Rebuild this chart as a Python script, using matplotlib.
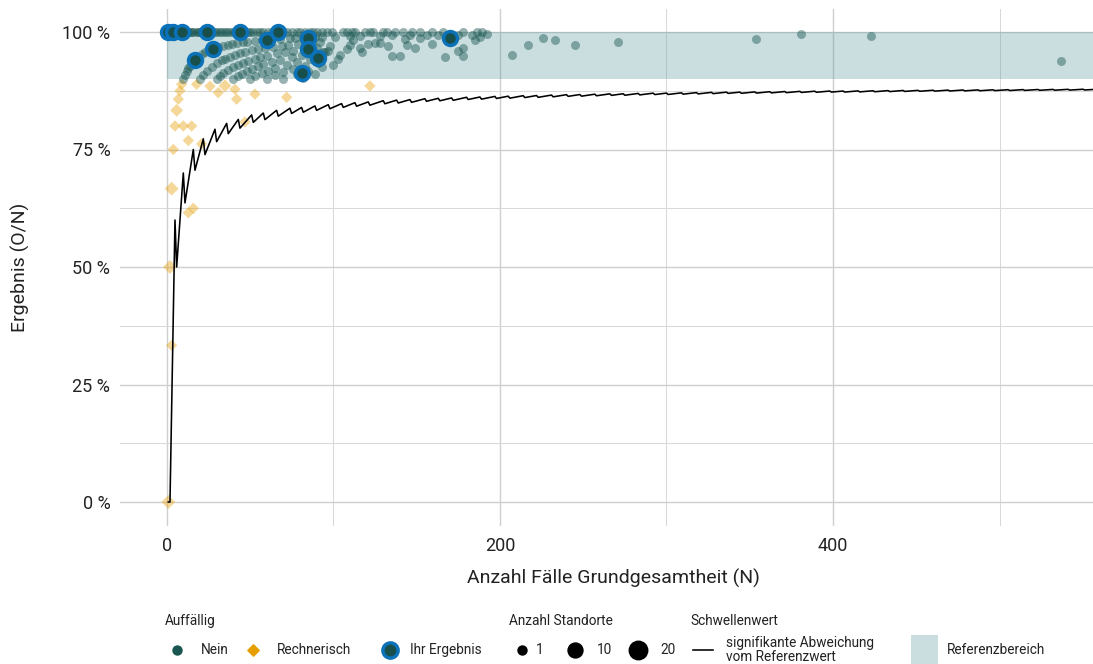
import numpy as np
import matplotlib
matplotlib.use("Agg")
import matplotlib.pyplot as plt
from matplotlib.patches import Rectangle
from matplotlib.ticker import FuncFormatter

plt.rcParams["font.family"] = ["Roboto", "DejaVu Sans"]

# --- Standorte im Referenzbereich (Auffaellig: Nein) -------------------------
# N = Faelle Grundgesamtheit, O = beobachtete Faelle
nein_n = [
    # 100 %
    1, 2, 3, 5, 6, 7, 8, 10, 11, 12, 13, 14, 15, 16, 18, 19, 20, 21, 22, 24,
    25, 26, 27, 29, 30, 32, 33, 35, 36, 38, 40, 41, 43, 45, 47, 49, 50, 52, 54, 56,
    58, 61, 63, 65, 68, 70, 72, 75, 78, 80, 83, 86, 88, 90, 93, 96, 99, 106, 108, 111,
    113, 119, 122, 124, 130, 132, 137, 142, 147, 152, 159, 166, 178, 186, 189,
    # ein Fall weniger
    10, 11, 12, 13, 14, 16, 19, 21, 23, 26, 29, 31, 34, 37, 39, 42, 46, 48, 53, 57,
    62, 68, 74, 77, 82, 89, 93, 101, 110, 116, 128, 135, 146, 156, 163, 175, 183, 192,
    # zwei bis acht Faelle weniger
    20, 22, 24, 27, 30, 33, 35, 38, 41, 44, 47, 51, 55, 59, 64, 69, 73, 79, 87, 92,
    30, 32, 34, 37, 40, 43, 46, 49, 53, 56, 60, 66, 71, 76, 84, 90,
    40, 43, 45, 48, 51, 55, 58, 63, 68, 75, 81, 88, 94,
    50, 53, 57, 61, 65, 72, 78, 86,
    60, 65, 70, 76, 83, 91,
    70, 78, 85, 93,
    82, 89,
    # groessere Standorte
    95, 97, 98, 100, 103, 104, 108, 110, 112, 116, 117, 121, 125, 128, 133, 135,
    140, 143, 144, 149, 152, 159, 167, 175, 178, 178, 185, 188,
    207, 217, 226, 233, 245, 271, 354, 381, 423, 537,
]
nein_o = [
    1, 2, 3, 5, 6, 7, 8, 10, 11, 12, 13, 14, 15, 16, 18, 19, 20, 21, 22, 24,
    25, 26, 27, 29, 30, 32, 33, 35, 36, 38, 40, 41, 43, 45, 47, 49, 50, 52, 54, 56,
    58, 61, 63, 65, 68, 70, 72, 75, 78, 80, 83, 86, 88, 90, 93, 96, 99, 106, 108, 111,
    113, 119, 122, 124, 130, 132, 137, 142, 147, 152, 159, 166, 178, 186, 189,
    9, 10, 11, 12, 13, 15, 18, 20, 22, 25, 28, 30, 33, 36, 38, 41, 45, 47, 52, 56,
    61, 67, 73, 76, 81, 88, 92, 100, 109, 115, 127, 134, 145, 155, 162, 174, 182, 191,
    18, 20, 22, 25, 28, 31, 33, 36, 39, 42, 45, 49, 53, 57, 62, 67, 71, 77, 85, 90,
    27, 29, 31, 34, 37, 40, 43, 46, 50, 53, 57, 63, 68, 73, 81, 87,
    36, 39, 41, 44, 47, 51, 54, 59, 64, 71, 77, 84, 90,
    45, 48, 52, 56, 60, 67, 73, 81,
    54, 59, 64, 70, 77, 85,
    63, 71, 78, 86,
    74, 81,
    91, 93, 95, 93, 97, 99, 104, 107, 110, 112, 112, 118, 122, 125, 129, 128,
    133, 141, 140, 144, 150, 155, 158, 168, 169, 172, 182, 186,
    197, 211, 223, 229, 238, 265, 349, 379, 419, 504,
]

# --- rechnerisch auffaellige Standorte ---------------------------------------
rech_n = [1, 2, 3, 3, 4, 5, 6, 7, 8, 9, 10, 13, 13, 15, 16, 18, 21, 26, 31, 35,
          41, 42, 47, 53, 72, 122]
rech_o = [0, 1, 1, 2, 3, 4, 5, 6, 7, 8, 8, 8, 10, 12, 10, 16, 16, 23, 27, 31,
          36, 36, 38, 46, 62, 108]
rech_standorte = [3, 3, 1, 3, 1, 1, 2, 1, 1, 1, 1, 1, 1, 1, 1, 1, 1, 1, 1, 2,
                  1, 1, 1, 1, 1, 1]

# --- eigene Standorte ----------------------------------------------------------
ihr_n = [1, 4, 9, 17, 24, 28, 44, 60, 67, 81, 85, 85, 91, 170]
ihr_o = [1, 4, 9, 16, 24, 27, 44, 59, 67, 74, 84, 82, 86, 168]

# --- Schwellenwert: erste Fallzahl N, ab der k Fehler (k = 1, 2, ...) gelten ---
schwelle_start = [1, 2, 6, 11, 17, 23, 30, 37, 44, 52, 59, 67, 75, 82, 90, 98,
                  106, 114, 122, 131, 139, 147, 156, 164, 172, 181, 189, 198,
                  206, 215, 223, 232, 241, 249, 258, 267, 275, 284, 293, 301,
                  310, 319, 328, 337, 345, 354, 363, 372, 381, 390, 399, 407,
                  416, 425, 434, 443, 452, 461, 470, 479, 488, 497, 506, 515,
                  524, 533, 542, 551]
X_MAX = 556
REF_UNTEN = 0.90

legende_standorte = [1, 10, 20]

GRUEN = "#1A5650"
GRUEN_DUNKEL = "#184F4A"
ORANGE = "#E69F00"
BLAU = "#0B72B9"
BAND = "#52949B"
TEXT = "#222222"
PT = 0.72  # Punkte je Pixel bei dpi=100


def groesse(n):
    d = 9 + 9.5 * (np.sqrt(n) - 1) / (np.sqrt(20) - 1)
    return (d * PT) ** 2


fig = plt.figure(figsize=(10.93, 6.64), dpi=100)
ax = fig.add_axes([120 / 1093, 1 - 525.5 / 664, 1 - 120 / 1093, 517 / 664])
ax.set_xlim(-28, X_MAX)
ax.set_ylim(-0.05, 1.05)
for sp in ax.spines.values():
    sp.set_visible(False)

ax.set_xticks([0, 200, 400])
ax.set_xticks([100, 300, 500], minor=True)
ax.set_yticks([0, 0.25, 0.5, 0.75, 1.0])
ax.set_yticks([0.125, 0.375, 0.625, 0.875], minor=True)
ax.grid(which="major", color="#cfcfcf", lw=1.0)
ax.grid(which="minor", color="#d9d9d9", lw=0.75)
ax.set_axisbelow(True)
ax.tick_params(which="both", length=0, labelsize=13, colors=TEXT)
ax.tick_params(axis="y", pad=7)
ax.tick_params(axis="x", pad=8)
ax.yaxis.set_major_formatter(FuncFormatter(lambda v, _: f"{v * 100:.0f} %"))

# Referenzbereich
ax.fill_between([0, X_MAX], REF_UNTEN, 1.0, color=BAND, alpha=0.3, lw=0, zorder=1)

# Schwellenwert als Saegezahn
sx, sy = [], []
for i, start in enumerate(schwelle_start):
    fehler = i + 1
    ende = schwelle_start[i + 1] - 1 if i + 1 < len(schwelle_start) else X_MAX
    for n in (start, ende):
        sx.append(n)
        sy.append((n - fehler) / n)

rn = np.array(rech_n)
ax.scatter(rn, np.array(rech_o) / rn, s=[groesse(k) * 0.8 for k in rech_standorte],
           marker="D", color=ORANGE, alpha=0.4, lw=0, zorder=2)
ax.plot(sx, sy, color="black", lw=1.15, zorder=3)

nn = np.array(nein_n)
ax.scatter(nn, np.array(nein_o) / nn, s=groesse(1), color=GRUEN, alpha=0.45,
           lw=0, zorder=4)

ihn = np.array(ihr_n)
ax.scatter(ihn, np.array(ihr_o) / ihn, s=100, facecolor=GRUEN_DUNKEL, edgecolor=BLAU,
           linewidths=2.5, zorder=5)

fig.text(613 / 1093, 1 - 578 / 664, "Anzahl Fälle Grundgesamtheit (N)",
         ha="center", va="center", fontsize=14, color=TEXT)
fig.text(20 / 1093, 1 - 267 / 664, "Ergebnis (O/N)", rotation=90,
         ha="center", va="center", fontsize=14, color=TEXT)

# --- Legende -------------------------------------------------------------------
lax = fig.add_axes([0, 0, 1, 1], zorder=10)
lax.set_xlim(0, 1093)
lax.set_ylim(664, 0)
lax.axis("off")
lax.patch.set_alpha(0)

ty, ky = 621, 650
lt = dict(fontsize=9.8, color=TEXT, va="center")

lax.text(165, ty, "Auffällig", **lt)
lax.scatter([177], [ky], s=groesse(1), color=GRUEN)
lax.text(201, ky, "Nein", **lt)
lax.scatter([253], [ky], s=groesse(1) * 0.8, marker="D", color=ORANGE)
lax.text(277, ky, "Rechnerisch", **lt)
lax.scatter([390], [ky], s=120, facecolor=GRUEN_DUNKEL, edgecolor=BLAU, linewidths=2.5)
lax.text(410, ky, "Ihr Ergebnis", **lt)

lax.text(509, ty, "Anzahl Standorte", **lt)
for xk, k in zip([522, 575, 638], legende_standorte):
    lax.scatter([xk], [ky], s=groesse(k), color="black")
    lax.text(xk + 14 + (k > 1) * 8, ky, str(k), **lt)

lax.text(690, ty, "Schwellenwert", **lt)
lax.plot([693, 713], [ky, ky], color="black", lw=1.15)
lax.text(726, ky, "signifikante Abweichung\nvom Referenzwert", linespacing=1.0, **lt)

lax.add_patch(Rectangle((911, 635), 27, 29, color=BAND, alpha=0.3, lw=0))
lax.text(947, ky, "Referenzbereich", **lt)

fig.savefig("out.png", dpi=100)
